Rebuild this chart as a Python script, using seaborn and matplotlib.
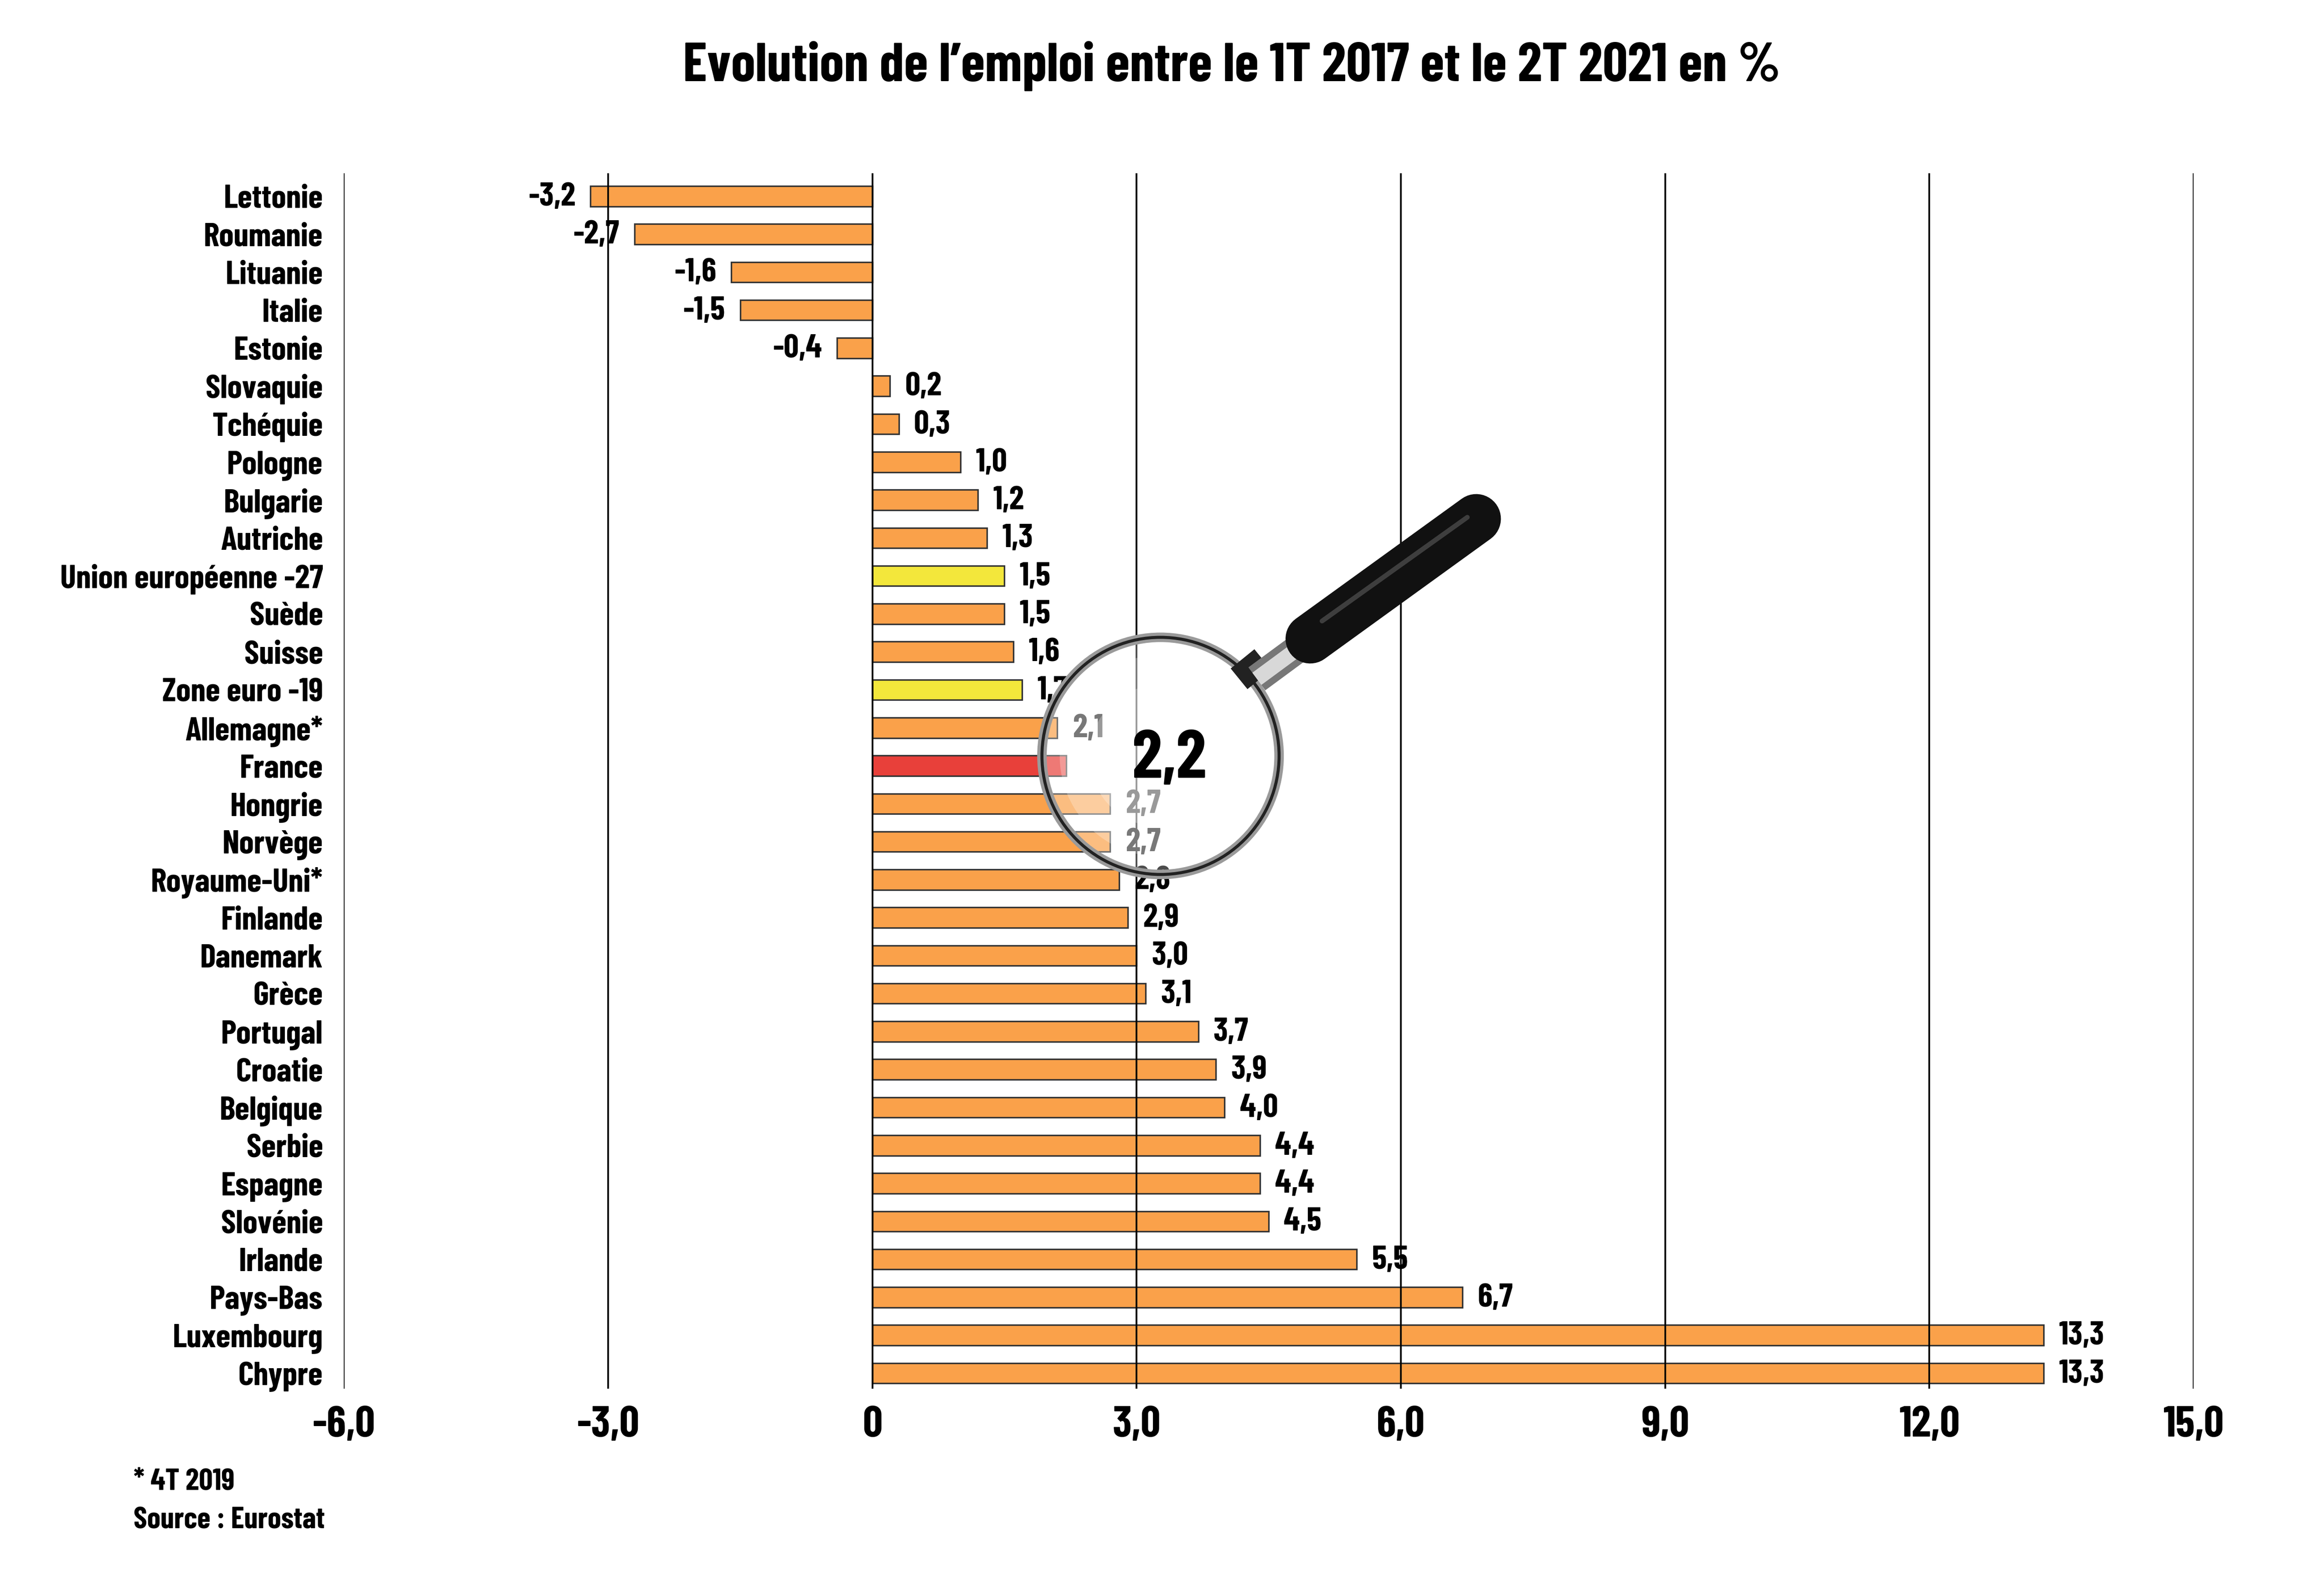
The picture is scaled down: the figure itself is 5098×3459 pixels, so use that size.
import matplotlib
matplotlib.use('Agg')
import matplotlib.pyplot as plt
import seaborn as sns
import pandas as pd
from matplotlib.lines import Line2D
from matplotlib.patches import Ellipse

sns.set_style('white')
plt.rcParams['font.family'] = ['Barlow Condensed', 'DejaVu Sans']
plt.rcParams['font.stretch'] = 'condensed'
plt.rcParams['font.weight'] = 'bold'
plt.rcParams['text.color'] = 'black'
plt.rcParams['xtick.color'] = 'black'
plt.rcParams['ytick.color'] = 'black'

countries = ['Lettonie', 'Roumanie', 'Lituanie', 'Italie', 'Estonie', 'Slovaquie',
             'Tchéquie', 'Pologne', 'Bulgarie', 'Autriche', 'Union européenne -27',
             'Suède', 'Suisse', 'Zone euro -19', 'Allemagne*', 'France', 'Hongrie',
             'Norvège', 'Royaume-Uni*', 'Finlande', 'Danemark', 'Grèce', 'Portugal',
             'Croatie', 'Belgique', 'Serbie', 'Espagne', 'Slovénie', 'Irlande',
             'Pays-Bas', 'Luxembourg', 'Chypre']
values = [-3.2, -2.7, -1.6, -1.5, -0.4, 0.2, 0.3, 1.0, 1.2, 1.3, 1.5, 1.5, 1.6, 1.7,
          2.1, 2.2, 2.7, 2.7, 2.8, 2.9, 3.0, 3.1, 3.7, 3.9, 4.0, 4.4, 4.4, 4.5, 5.5,
          6.7, 13.3, 13.3]
x_ticks = [-6, -3, 0, 3, 6, 9, 12, 15]
x_tick_labels = ['-6,0', '-3,0', '0', '3,0', '6,0', '9,0', '12,0', '15,0']

orange = '#FAA14A'
yellow = '#F3E73B'
red = '#E8403A'
highlight = {'Union européenne -27': yellow, 'Zone euro -19': yellow, 'France': red}
colors = [highlight.get(c, orange) for c in countries]

df = pd.DataFrame({'pays': countries, 'evol': values})

fig = plt.figure(figsize=(5098 / 300, 3459 / 300), dpi=300)
ax = fig.add_axes([0.14796, 0.11936, 0.79592, 0.77068])

sns.barplot(data=df, x='evol', y='pays', hue='pays', palette=colors, legend=False,
            orient='h', width=0.535, edgecolor='#333333', linewidth=0.8, ax=ax,
            saturation=1)

ax.set_xlim(-6, 15)
ax.set_ylim(31.41, -0.60)
ax.set_xticks(x_ticks)
ax.set_xticklabels(x_tick_labels)
ax.set_xlabel('')
ax.set_ylabel('')
for s in ax.spines.values():
    s.set_visible(False)
ax.set_axisbelow(False)
ax.grid(axis='x', color='black', linewidth=0.9)
ax.grid(axis='y', visible=False)
ax.tick_params(axis='x', length=0, pad=9, labelsize=23)
ax.tick_params(axis='y', length=0, pad=11, labelsize=17.5)
for lab in ax.get_xticklabels() + ax.get_yticklabels():
    lab.set_fontweight('bold')

# value labels
for i, (c, v) in enumerate(zip(countries, values)):
    txt = f'{v:.1f}'.replace('.', ',')
    if c == 'France':
        # drawn above the magnifier
        fig.text(2.95, i - 0.15, txt, transform=ax.transData, ha='left', va='center',
                 fontsize=36, fontweight='bold', zorder=10)
        continue
    if v < 0:
        ax.annotate(txt, (v, i), xytext=(-8, -0.5), textcoords='offset points',
                    ha='right', va='center', fontsize=17.5, fontweight='bold')
    else:
        ax.annotate(txt, (v, i), xytext=(8, -0.5), textcoords='offset points',
                    ha='left', va='center', fontsize=17.5, fontweight='bold')

# magnifying glass (display coords of a 1568x1064 view)
W, H = 1568, 1064


def fp(x, y):
    return x / W, 1 - y / H


cx, cy = fp(783, 510)
for k, a in [(1.0, 0.30), (0.85, 0.25), (0.6, 0.25)]:
    fig.add_artist(Ellipse((cx, cy), 2 * 80 * k / W, 2 * 80 * k / H, transform=fig.transFigure,
                           facecolor='white', alpha=a, edgecolor='none', zorder=5))
fig.add_artist(Ellipse((cx, cy), 2 * 80 / W, 2 * 80 / H, transform=fig.transFigure,
                       facecolor='none', edgecolor='#9a9a9a', linewidth=5, zorder=6))
fig.add_artist(Ellipse((cx, cy), 2 * 80 / W, 2 * 80 / H, transform=fig.transFigure,
                       facecolor='none', edgecolor='#222222', linewidth=1.6, zorder=6))

x0, y0 = fp(836, 458)
x1, y1 = fp(852, 445)
fig.add_artist(Line2D([x0, x1], [y0, y1], transform=fig.transFigure, color='#222222',
                      linewidth=14, solid_capstyle='butt', zorder=6))
x0, y0 = fp(848, 458)
x1, y1 = fp(886, 430)
fig.add_artist(Line2D([x0, x1], [y0, y1], transform=fig.transFigure, color='#777777',
                      linewidth=15, solid_capstyle='butt', zorder=6))
fig.add_artist(Line2D([x0, x1], [y0, y1], transform=fig.transFigure, color='#d8d8d8',
                      linewidth=8, solid_capstyle='butt', zorder=6))
x0, y0 = fp(884, 431)
x1, y1 = fp(996, 350)
fig.add_artist(Line2D([x0, x1], [y0, y1], transform=fig.transFigure, color='#111111',
                      linewidth=26, solid_capstyle='round', zorder=6))
x0, y0 = fp(892, 419)
x1, y1 = fp(990, 349)
fig.add_artist(Line2D([x0, x1], [y0, y1], transform=fig.transFigure, color='#4a4a4a',
                      linewidth=2.5, solid_capstyle='round', zorder=6, alpha=0.8))

fig.text(0.530, 0.958, 'Evolution de l’emploi entre le 1T 2017 et le 2T 2021 en %',
         ha='center', va='center', fontsize=29, fontweight='bold')
fig.text(90 / W, 1 - 1000 / H, '* 4T 2019', ha='left', va='center', fontsize=16,
         fontweight='bold')
fig.text(90 / W, 1 - 1026 / H, 'Source : Eurostat', ha='left', va='center', fontsize=16,
         fontweight='bold')

fig.savefig('out.png', dpi=300, facecolor='white')
